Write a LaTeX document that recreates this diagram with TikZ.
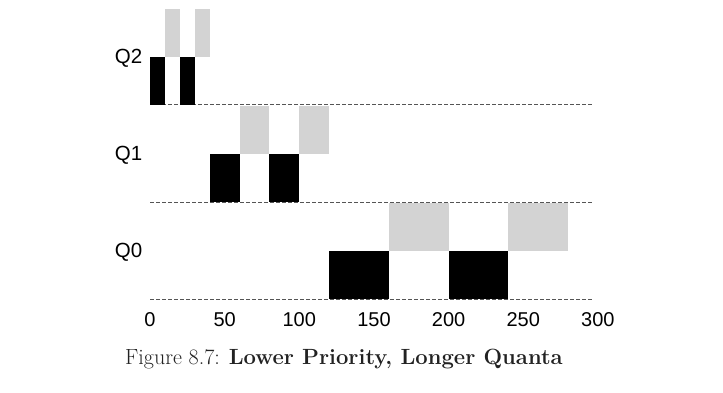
\documentclass[tikz,border=0pt]{standalone}
\usepackage{fontspec}
\newfontfamily\labelfont{Liberation Sans}
\definecolor{boxgray}{HTML}{D3D3D3}
\definecolor{dashgray}{HTML}{555555}
\definecolor{captioncol}{HTML}{222222}
\tikzset{
  run/.style={fill=black, draw=none},
  wait/.style={fill=boxgray, draw=none},
  baseline/.style={draw=dashgray, line width=1pt, dash pattern=on 3.5pt off 2.5pt},
  qlabel/.style={font=\labelfont\fontsize{20.5}{24}\selectfont, inner sep=0pt},
  ticklabel/.style={font=\labelfont\fontsize{20}{24}\selectfont, inner sep=0pt},
  captext/.style={font=\fontsize{22}{26}\selectfont, text=captioncol, inner sep=0pt, anchor=base}
}
\begin{document}
\begin{tikzpicture}[x=1pt, y=-1pt]
\useasboundingbox (0,0) rectangle (723,393);
\begin{scope}[shift={(150,0)}, x=1.493pt]
  % baselines
  \draw[baseline] (0,105) -- (297,105);
  \draw[baseline] (0,202) -- (297,202);
  \draw[baseline] (0,299) -- (297,299);
  % Q2
  \fill[run]  (0,57) rectangle (10,105);
  \fill[run]  (20,57) rectangle (30,105);
  \fill[wait] (10,9) rectangle (20,57);
  \fill[wait] (30,9) rectangle (40,57);
  % Q1
  \fill[run]  (40,154) rectangle (60,202);
  \fill[run]  (80,154) rectangle (100,202);
  \fill[wait] (60,106) rectangle (80,154);
  \fill[wait] (100,106) rectangle (120,154);
  % Q0
  \fill[run]  (120,251) rectangle (160,299);
  \fill[run]  (200,251) rectangle (240,299);
  \fill[wait] (160,203) rectangle (200,251);
  \fill[wait] (240,203) rectangle (280,251);
  % tick labels
  \foreach \t in {0,50,...,300}
    \node[ticklabel] (tick\t) at (\t,320) {\t};
\end{scope}
\node[qlabel] (q2) at (128.5,58) {Q2};
\node[qlabel] (q1) at (128.5,155) {Q1};
\node[qlabel] (q0) at (128.5,252) {Q0};
\node[captext] (cap) at (344,364) {Figure 8.7: \textbf{Lower Priority, Longer Quanta}};
\end{tikzpicture}
\end{document}
